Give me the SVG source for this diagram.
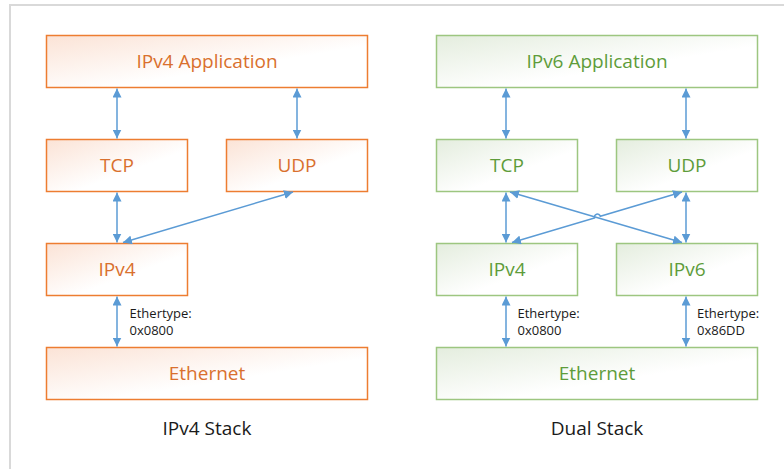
<svg xmlns="http://www.w3.org/2000/svg" width="784" height="469" viewBox="0 0 784 469">
<style>
.bo{fill:url(#go);stroke:#ED7D31;stroke-width:1.5}
.bg{fill:url(#gg);stroke:#9DC680;stroke-width:1.5}
.to{font-family:"Open Sans","Liberation Sans",sans-serif;font-size:19px;fill:#D9702E;text-anchor:middle}
.tg{font-family:"Open Sans","Liberation Sans",sans-serif;font-size:19px;fill:#5E9C3A;text-anchor:middle}
.cap{font-family:"Open Sans","Liberation Sans",sans-serif;font-size:19px;fill:#1a1a1a;text-anchor:middle}
.lbl{font-family:"Open Sans","Liberation Sans",sans-serif;font-size:13px;fill:#1a1a1a}
.ln{fill:none;stroke:#5B9BD5;stroke-width:1.5;marker-start:url(#ah);marker-end:url(#ah)}
</style>
<defs>
<linearGradient id="go" x1="0" y1="0" x2="1" y2="1">
<stop offset="0" stop-color="#FBE3D6"/><stop offset="0.6" stop-color="#FFFFFF"/><stop offset="1" stop-color="#FFFFFF"/>
</linearGradient>
<linearGradient id="gg" x1="0" y1="0" x2="1" y2="1">
<stop offset="0" stop-color="#E4EDDE"/><stop offset="0.6" stop-color="#FFFFFF"/><stop offset="1" stop-color="#FFFFFF"/>
</linearGradient>
<marker id="ah" viewBox="0 0 10 10" refX="10" refY="5" markerWidth="6" markerHeight="6" orient="auto-start-reverse">
<path d="M0,0 L10,5 L0,10 z" fill="#5B9BD5"/>
</marker>
</defs>
<rect x="0" y="0" width="784" height="469" fill="#FFFFFF"/>
<rect x="10" y="5" width="800" height="500" fill="none" stroke="#D9D9D9" stroke-width="2"/>

<g id="v4app"><rect class="bo" x="46.5" y="35.5" width="321" height="52"/><text class="to" x="207" y="68">IPv4 Application</text></g>
<g id="v4tcp"><rect class="bo" x="46.5" y="139.5" width="141" height="52"/><text class="to" x="117" y="172">TCP</text></g>
<g id="v4udp"><rect class="bo" x="226.5" y="139.5" width="141" height="52"/><text class="to" x="297" y="172">UDP</text></g>
<g id="v4ip"><rect class="bo" x="46.5" y="243.5" width="141" height="52"/><text class="to" x="117" y="276">IPv4</text></g>
<g id="v4eth"><rect class="bo" x="46.5" y="347.5" width="321" height="52"/><text class="to" x="207" y="380">Ethernet</text></g>
<text class="cap" x="207" y="435">IPv4 Stack</text>

<g id="dsapp"><rect class="bg" x="436.5" y="35.5" width="321" height="52"/><text class="tg" x="597" y="68">IPv6 Application</text></g>
<g id="dstcp"><rect class="bg" x="436.5" y="139.5" width="141" height="52"/><text class="tg" x="507" y="172">TCP</text></g>
<g id="dsudp"><rect class="bg" x="616.5" y="139.5" width="141" height="52"/><text class="tg" x="687" y="172">UDP</text></g>
<g id="dsip4"><rect class="bg" x="436.5" y="243.5" width="141" height="52"/><text class="tg" x="507" y="276">IPv4</text></g>
<g id="dsip6"><rect class="bg" x="616.5" y="243.5" width="141" height="52"/><text class="tg" x="687" y="276">IPv6</text></g>
<g id="dseth"><rect class="bg" x="436.5" y="347.5" width="321" height="52"/><text class="tg" x="597" y="380">Ethernet</text></g>
<text class="cap" x="597" y="435">Dual Stack</text>

<g id="connectors">
<line class="ln" x1="117" y1="88.5" x2="117" y2="138.5"/>
<line class="ln" x1="297" y1="88.5" x2="297" y2="138.5"/>
<line class="ln" x1="117" y1="192.5" x2="117" y2="242.5"/>
<line class="ln" x1="123" y1="242.5" x2="293" y2="192"/>
<line class="ln" x1="117" y1="296.5" x2="117" y2="346.5"/>

<line class="ln" x1="506" y1="88.5" x2="506" y2="138.5"/>
<line class="ln" x1="686" y1="88.5" x2="686" y2="138.5"/>
<line class="ln" x1="506" y1="192.5" x2="506" y2="242.5"/>
<line class="ln" x1="686" y1="192.5" x2="686" y2="242.5"/>
<line class="ln" x1="510" y1="192" x2="682" y2="242.5"/>
<path class="ln" d="M682,192 L600.3,216.3 A3,3 0 0 0 594.5,218 L512,242.5"/>
<line class="ln" x1="506" y1="296.5" x2="506" y2="346.5"/>
<line class="ln" x1="686" y1="296.5" x2="686" y2="346.5"/>
</g>

<text class="lbl" x="129.5" y="318">Ethertype:</text>
<text class="lbl" x="129.5" y="335">0x0800</text>
<text class="lbl" x="517.5" y="318">Ethertype:</text>
<text class="lbl" x="517.5" y="335">0x0800</text>
<text class="lbl" x="697" y="318">Ethertype:</text>
<text class="lbl" x="697" y="335">0x86DD</text>
</svg>
